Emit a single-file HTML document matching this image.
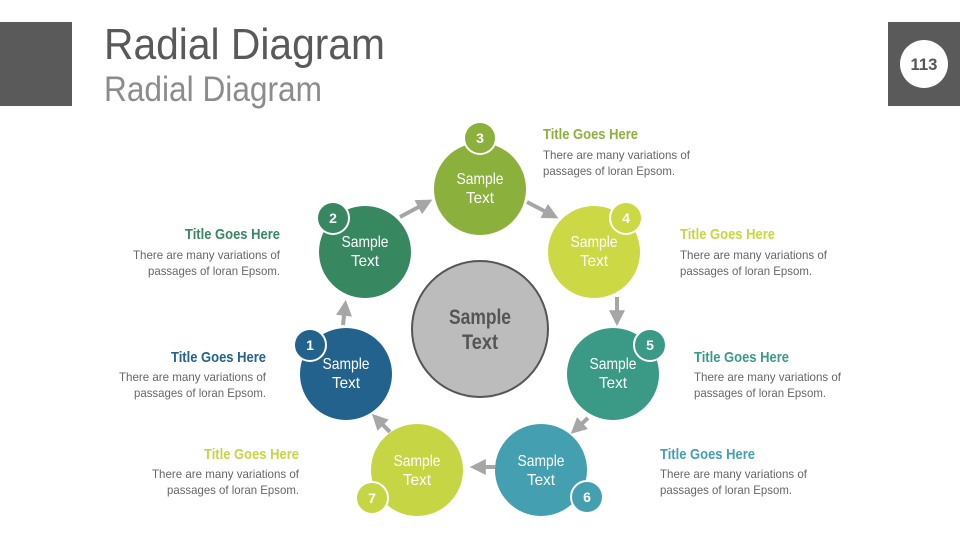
<!DOCTYPE html>
<html><head><meta charset="utf-8"><style>
html,body{margin:0;padding:0;background:#fff;}
svg{display:block;font-family:"Liberation Sans",sans-serif;}
</style></head><body>
<svg width="960" height="540" viewBox="0 0 960 540" xmlns="http://www.w3.org/2000/svg">
<defs><marker id="ah" markerWidth="4" markerHeight="4" refX="2.2" refY="2" orient="auto" markerUnits="strokeWidth"><path d="M0,0 L4,2 L0,4 z" fill="#a6a6a6"/></marker></defs>
<rect x="0" y="22" width="72" height="84" fill="#5a5a5a"/>
<rect x="888" y="22" width="72" height="84" fill="#5a5a5a"/>
<circle cx="924" cy="64" r="24" fill="#fff"/>
<text x="924" y="70" text-anchor="middle" font-size="17" font-weight="bold" fill="#555" textLength="27" lengthAdjust="spacingAndGlyphs">113</text>
<text x="104" y="59" font-size="44" fill="#595959" textLength="281" lengthAdjust="spacingAndGlyphs">Radial Diagram</text>
<text x="104" y="101" font-size="35" fill="#8c8c8c" textLength="218" lengthAdjust="spacingAndGlyphs">Radial Diagram</text>

<g stroke="#a6a6a6" stroke-width="4" fill="none" marker-end="url(#ah)">
<line x1="400" y1="217" x2="426" y2="203"/>
<line x1="527" y1="202" x2="552" y2="215"/>
<line x1="617" y1="297" x2="617" y2="319"/>
<line x1="588" y1="418" x2="576" y2="429"/>
<line x1="495" y1="467" x2="477" y2="467"/>
<line x1="390" y1="432" x2="377" y2="419"/>
<line x1="343" y1="325" x2="345" y2="307"/>
</g>

<circle cx="480" cy="329" r="68" fill="#bcbcbc" stroke="#555" stroke-width="2"/>
<text x="480" y="324" text-anchor="middle" font-size="21" font-weight="bold" fill="#555" textLength="62" lengthAdjust="spacingAndGlyphs">Sample</text>
<text x="480" y="349" text-anchor="middle" font-size="21" font-weight="bold" fill="#555" textLength="36" lengthAdjust="spacingAndGlyphs">Text</text>

<g font-size="16" fill="#fff" text-anchor="middle" lengthAdjust="spacingAndGlyphs">
<circle cx="480" cy="189" r="46" fill="#8bb03c"/><text x="480" y="184" textLength="47" lengthAdjust="spacingAndGlyphs">Sample</text><text x="480" y="203" textLength="28" lengthAdjust="spacingAndGlyphs">Text</text>
<circle cx="365" cy="252" r="46" fill="#378760"/><text x="365" y="247" textLength="47" lengthAdjust="spacingAndGlyphs">Sample</text><text x="365" y="266" textLength="28" lengthAdjust="spacingAndGlyphs">Text</text>
<circle cx="594" cy="252" r="46" fill="#cdd845"/><text x="594" y="247" textLength="47" lengthAdjust="spacingAndGlyphs">Sample</text><text x="594" y="266" textLength="28" lengthAdjust="spacingAndGlyphs">Text</text>
<circle cx="346" cy="374" r="46" fill="#22628d"/><text x="346" y="369" textLength="47" lengthAdjust="spacingAndGlyphs">Sample</text><text x="346" y="388" textLength="28" lengthAdjust="spacingAndGlyphs">Text</text>
<circle cx="613" cy="374" r="46" fill="#3a9a86"/><text x="613" y="369" textLength="47" lengthAdjust="spacingAndGlyphs">Sample</text><text x="613" y="388" textLength="28" lengthAdjust="spacingAndGlyphs">Text</text>
<circle cx="541" cy="470" r="46" fill="#449fb0"/><text x="541" y="466" textLength="47" lengthAdjust="spacingAndGlyphs">Sample</text><text x="541" y="485" textLength="28" lengthAdjust="spacingAndGlyphs">Text</text>
<circle cx="417" cy="470" r="46" fill="#c6d543"/><text x="417" y="466" textLength="47" lengthAdjust="spacingAndGlyphs">Sample</text><text x="417" y="485" textLength="28" lengthAdjust="spacingAndGlyphs">Text</text>
</g>
<g stroke="#fff" stroke-width="2">
<circle cx="480" cy="138" r="16" fill="#8bb03c"/>
<circle cx="333" cy="218" r="16" fill="#378760"/>
<circle cx="626" cy="218" r="16" fill="#cdd845"/>
<circle cx="310" cy="345" r="16" fill="#22628d"/>
<circle cx="650" cy="345" r="16" fill="#3a9a86"/>
<circle cx="587" cy="497" r="16" fill="#449fb0"/>
<circle cx="372" cy="498" r="16" fill="#c6d543"/>
</g>
<g font-size="14" font-weight="bold" fill="#fff" text-anchor="middle">
<text x="480" y="143">3</text><text x="333" y="223">2</text><text x="626" y="223">4</text>
<text x="310" y="350">1</text><text x="650" y="350">5</text><text x="587" y="502">6</text><text x="372" y="503">7</text>
</g>

<g font-size="12" fill="#666">
<text x="543" y="139" font-size="15" font-weight="bold" fill="#8bb03c" textLength="95" lengthAdjust="spacingAndGlyphs">Title Goes Here</text>
<text x="543" y="159" textLength="147" lengthAdjust="spacingAndGlyphs">There are many variations of</text><text x="543" y="175" textLength="132" lengthAdjust="spacingAndGlyphs">passages of loran Epsom.</text>
<text x="680" y="239" font-size="15" font-weight="bold" fill="#c9d640" textLength="95" lengthAdjust="spacingAndGlyphs">Title Goes Here</text>
<text x="680" y="259" textLength="147" lengthAdjust="spacingAndGlyphs">There are many variations of</text><text x="680" y="275" textLength="132" lengthAdjust="spacingAndGlyphs">passages of loran Epsom.</text>
<text x="694" y="362" font-size="15" font-weight="bold" fill="#3a9a86" textLength="95" lengthAdjust="spacingAndGlyphs">Title Goes Here</text>
<text x="694" y="381" textLength="147" lengthAdjust="spacingAndGlyphs">There are many variations of</text><text x="694" y="397" textLength="132" lengthAdjust="spacingAndGlyphs">passages of loran Epsom.</text>
<text x="660" y="459" font-size="15" font-weight="bold" fill="#449fb0" textLength="95" lengthAdjust="spacingAndGlyphs">Title Goes Here</text>
<text x="660" y="478" textLength="147" lengthAdjust="spacingAndGlyphs">There are many variations of</text><text x="660" y="494" textLength="132" lengthAdjust="spacingAndGlyphs">passages of loran Epsom.</text>
</g>
<g font-size="12" fill="#666" text-anchor="end">
<text x="280" y="239" font-size="15" font-weight="bold" fill="#378760" textLength="95" lengthAdjust="spacingAndGlyphs">Title Goes Here</text>
<text x="280" y="259" textLength="147" lengthAdjust="spacingAndGlyphs">There are many variations of</text><text x="280" y="275" textLength="132" lengthAdjust="spacingAndGlyphs">passages of loran Epsom.</text>
<text x="266" y="362" font-size="15" font-weight="bold" fill="#22628d" textLength="95" lengthAdjust="spacingAndGlyphs">Title Goes Here</text>
<text x="266" y="381" textLength="147" lengthAdjust="spacingAndGlyphs">There are many variations of</text><text x="266" y="397" textLength="132" lengthAdjust="spacingAndGlyphs">passages of loran Epsom.</text>
<text x="299" y="459" font-size="15" font-weight="bold" fill="#c6d543" textLength="95" lengthAdjust="spacingAndGlyphs">Title Goes Here</text>
<text x="299" y="478" textLength="147" lengthAdjust="spacingAndGlyphs">There are many variations of</text><text x="299" y="494" textLength="132" lengthAdjust="spacingAndGlyphs">passages of loran Epsom.</text>
</g>
</svg>
</body></html>
